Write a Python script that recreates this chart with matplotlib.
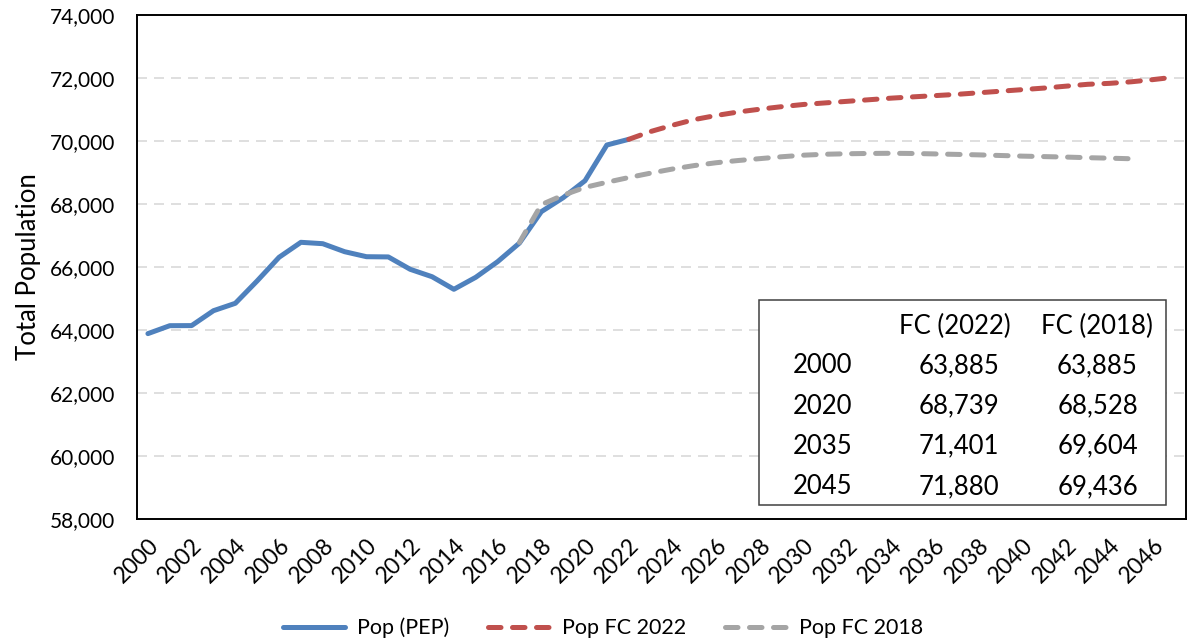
import matplotlib
matplotlib.use("Agg")
import matplotlib.pyplot as plt
from matplotlib.patches import Rectangle
from matplotlib.ticker import FuncFormatter

plt.rcParams['font.family'] = ['Lato', 'DejaVu Sans']

# ---- data ----
pep_years = list(range(2000, 2023))
pep_values = [63885, 64137, 64140, 64613, 64848, 65560, 66308, 66784, 66740, 66486,
              66327, 66320, 65927, 65692, 65292, 65673, 66168, 66760, 67756, 68200,
              68739, 69873, 70053]

fc22_years = list(range(2022, 2048))
fc22_values = [70053, 70300, 70500, 70680, 70810, 70920, 71010, 71090, 71160, 71210,
               71260, 71310, 71360, 71401, 71440, 71480, 71530, 71580, 71630, 71680,
               71740, 71800, 71830, 71880, 71950, 72030]

fc18_years = list(range(2017, 2046))
fc18_values = [66780, 67980, 68280, 68528, 68690, 68840, 68980, 69110, 69220, 69310,
               69380, 69440, 69500, 69550, 69580, 69595, 69605, 69610, 69604, 69590,
               69575, 69560, 69540, 69520, 69505, 69490, 69470, 69455, 69436]

tick_years = list(range(2000, 2047, 2))
y_ticks = list(range(58000, 74001, 2000))

table_header = ["FC (2022)", "FC (2018)"]
table_years = ["2000", "2020", "2035", "2045"]
table_fc22 = ["63,885", "68,739", "71,401", "71,880"]
table_fc18 = ["63,885", "68,528", "69,604", "69,436"]

series_labels = ["Pop (PEP)", "Pop FC 2022", "Pop FC 2018"]
colors = ["#4F81BD", "#C0504D", "#A5A5A5"]

# ---- figure ----
W, H = 1189, 642
fig = plt.figure(figsize=(W / 100, H / 100), dpi=100)

def fx(x):
    return x / W

def fy(y):
    return 1 - y / H

ax_l, ax_r, ax_t, ax_b = 137, 1186, 15, 519
ax = fig.add_axes([fx(ax_l), fy(ax_b), fx(ax_r) - fx(ax_l), fy(ax_t) - fy(ax_b)])

for yv in y_ticks[1:-1]:
    ax.axhline(yv, color="#D9D9D9", lw=1.2, ls=(0, (6, 4.2)), zorder=1)

lw = 3.6
l1, = ax.plot(pep_years, pep_values, color=colors[0], lw=lw, solid_capstyle='round',
              solid_joinstyle='round', zorder=3, label=series_labels[0])
l2, = ax.plot(fc22_years, fc22_values, color=colors[1], lw=lw, ls=(0, (2.5, 2.3)),
              dash_capstyle='round', zorder=4, label=series_labels[1])
l3, = ax.plot(fc18_years, fc18_values, color=colors[2], lw=lw, ls=(0, (2.5, 2.3)),
              dash_capstyle='round', zorder=5, label=series_labels[2])

ax.set_xlim(1999.5, 2047.5)
ax.set_ylim(58000, 74000)
ax.set_yticks(y_ticks)
ax.yaxis.set_major_formatter(FuncFormatter(lambda v, p: f"{int(v):,}"))
ax.set_xticks(tick_years)
ax.set_xticklabels([str(y) for y in tick_years], rotation=45, ha='right', va='top',
                   rotation_mode='anchor')
ax.tick_params(axis='both', length=0, colors='black')
ax.tick_params(axis='y', labelsize=15, pad=16)
ax.tick_params(axis='x', labelsize=16.5, pad=11)
for s in ax.spines.values():
    s.set_color('black')
    s.set_linewidth(1.4)

fig.text(fx(29), fy(267), "Total Population", rotation=90, ha='center', va='center',
         fontsize=18.5, color='black')

# ---- table box ----
tb_l, tb_r, tb_t, tb_b = 759, 1166, 300, 505
rect = Rectangle((fx(tb_l), fy(tb_b)), fx(tb_r) - fx(tb_l), fy(tb_t) - fy(tb_b),
                 transform=fig.transFigure, facecolor='white', edgecolor='#404040',
                 lw=1.1, zorder=10)
fig.patches.append(rect)

fs_tab = 18.5
fig.text(fx(955), fy(326), table_header[0], ha='center', va='center', fontsize=fs_tab, zorder=11)
fig.text(fx(1097), fy(326), table_header[1], ha='center', va='center', fontsize=fs_tab, zorder=11)
row_y = [366, 406, 446, 487]
for i, yy in enumerate(row_y):
    fig.text(fx(823), fy(yy), table_years[i], ha='center', va='center', fontsize=fs_tab, zorder=11)
    fig.text(fx(999), fy(yy), table_fc22[i], ha='right', va='center', fontsize=fs_tab, zorder=11)
    fig.text(fx(1138), fy(yy), table_fc18[i], ha='right', va='center', fontsize=fs_tab, zorder=11)

# ---- legend ----
leg = fig.legend(handles=[l1, l2, l3], loc='center', bbox_to_anchor=(fx(603), fy(628)),
                 ncol=3, frameon=False, fontsize=15.5, handlelength=2.9,
                 columnspacing=1.8, handletextpad=0.55)

fig.savefig("out.png", dpi=100)
